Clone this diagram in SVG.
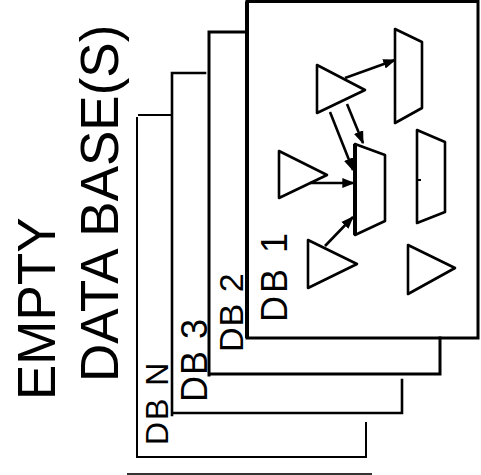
<svg xmlns="http://www.w3.org/2000/svg" width="481" height="475" viewBox="0 0 481 475">
<defs>
<style>
.pg{fill:none;stroke:#000;stroke-linecap:square;stroke-linejoin:miter}
.sh{fill:#fff;stroke:#000;stroke-width:2.6;stroke-linejoin:round}
.cn{fill:none;stroke:#000;stroke-width:2.6}
.ttl{font-family:"Liberation Sans",Arial,sans-serif;font-size:53px;fill:#000}
.lbl{font-family:"Liberation Sans",Arial,sans-serif;fill:#000}
</style>
<marker id="ah" viewBox="0 0 10 10" refX="9" refY="5" markerWidth="13" markerHeight="11" markerUnits="userSpaceOnUse" orient="auto" preserveAspectRatio="none">
<path d="M0,0.5 L10,5 L0,9.5 Z" fill="#000"/>
</marker>
</defs>
<rect width="481" height="475" fill="#fff"/>
<g id="title">
<text class="ttl" transform="translate(55,400) rotate(-90)">EMPTY</text>
<text class="ttl" transform="translate(118,382) rotate(-90)">DATA BASE(S)</text>
</g>
<g id="db-n">
<path class="pg" stroke-width="2" d="M139,115 L170,115 M137,118 L137,457 L366,457 L366,423"/>
<text class="lbl" font-size="32" letter-spacing="2" transform="translate(168,445) rotate(-90)">DB N</text>
</g>
<g id="db-3">
<path class="pg" stroke-width="2.6" d="M172,415 L172,73 L205,73 M172,413 L402,413 L402,380"/>
<text class="lbl" font-size="36" letter-spacing="1" transform="translate(207,402) rotate(-90)">DB 3</text>
</g>
<g id="db-2">
<path class="pg" stroke-width="3" d="M209,375 L209,32 L247,32 M209,374 L440,374 L440,338"/>
<text class="lbl" font-size="34" letter-spacing="1" transform="translate(243,352) rotate(-90)">DB 2</text>
</g>
<g id="db-1">
<rect class="pg" x="247" y="1.5" width="231" height="336.5" stroke-width="3"/>
<line x1="247" y1="1.5" x2="247" y2="338" stroke="#000" stroke-width="4"/>
<text class="lbl" font-size="36" letter-spacing="3" transform="translate(287,322) rotate(-90)">DB 1</text>
</g>
<g id="tri-a"><path class="sh" d="M317,65 L365,90 L317,113 Z"/></g>
<g id="tri-b"><path class="sh" d="M279,151 L327,175 L279,198 Z"/></g>
<g id="tri-c"><path class="sh" d="M308,240 L357,264 L308,288 Z"/></g>
<g id="tri-d"><path class="sh" d="M408,245 L455,268 L408,294 Z"/></g>
<g id="par-1"><path class="sh" d="M395,29 L422,42 L422,108 L395,123 Z"/></g>
<g id="par-2"><path class="sh" d="M355,144 L385,155 L385,221 L355,235 Z"/><line x1="355" y1="144" x2="355" y2="235" stroke="#000" stroke-width="4"/></g>
<g id="par-3"><path class="sh" d="M417,130 L445,142 L445,212 L417,223 Z"/><line x1="417" y1="180" x2="421" y2="180" stroke="#000" stroke-width="2"/></g>
<g id="connectors">
<line class="cn" x1="345" y1="78" x2="395" y2="60" marker-end="url(#ah)"/>
<line class="cn" x1="347" y1="104" x2="363" y2="143" marker-end="url(#ah)"/>
<line class="cn" x1="330" y1="112" x2="353" y2="170" marker-end="url(#ah)"/>
<line class="cn" x1="310" y1="183" x2="354" y2="183" marker-end="url(#ah)"/>
<line class="cn" x1="325" y1="246" x2="353" y2="217" marker-end="url(#ah)"/>
</g>
<line x1="127" y1="474" x2="372" y2="474" stroke="#333" stroke-width="2"/>
</svg>
